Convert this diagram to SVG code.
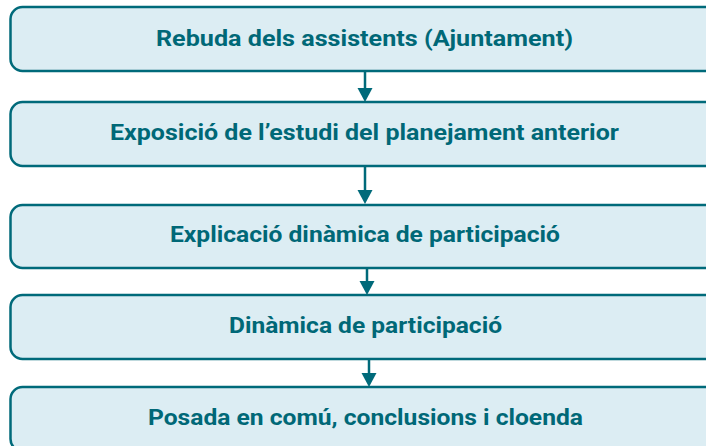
<svg xmlns="http://www.w3.org/2000/svg" width="706" height="446" viewBox="0 0 706 446">
<defs>
<style>
.box{fill:#dcedf3;stroke:#006a7a;stroke-width:2.5}
.lbl{font-family:Roboto,"Liberation Sans",sans-serif;font-weight:bold;font-size:22px;fill:#006877;text-anchor:middle}
.con{stroke:#006a7a;stroke-width:2.5;fill:none}
.head{fill:#006a7a}
</style>
</defs>
<rect width="706" height="446" fill="#ffffff"/>
<g id="connectors">
<line class="con" x1="365" y1="71" x2="365" y2="90"/>
<polygon class="head" points="357.5,88 372.5,88 365,102"/>
<line class="con" x1="365" y1="166" x2="365" y2="192"/>
<polygon class="head" points="357.5,190 372.5,190 365,204"/>
<line class="con" x1="367" y1="268" x2="367" y2="283"/>
<polygon class="head" points="359.5,281 374.5,281 367,295"/>
<line class="con" x1="369" y1="359" x2="369" y2="375"/>
<polygon class="head" points="361.5,373 376.5,373 369,387"/>
</g>
<g id="node1">
<rect class="box" x="10.5" y="7" width="710" height="64" rx="12"/>
<text class="lbl" x="364.5" y="45.5" textLength="417" lengthAdjust="spacingAndGlyphs">Rebuda dels assistents (Ajuntament)</text>
</g>
<g id="node2">
<rect class="box" x="10.5" y="102" width="710" height="64" rx="12"/>
<text class="lbl" x="364.5" y="139.5" textLength="509" lengthAdjust="spacingAndGlyphs">Exposició de l’estudi del planejament anterior</text>
</g>
<g id="node3">
<rect class="box" x="10.5" y="205" width="710" height="63" rx="12"/>
<text class="lbl" x="365" y="242" textLength="390" lengthAdjust="spacingAndGlyphs">Explicació dinàmica de participació</text>
</g>
<g id="node4">
<rect class="box" x="10.5" y="295" width="710" height="64" rx="12"/>
<text class="lbl" x="365.5" y="333" textLength="273" lengthAdjust="spacingAndGlyphs">Dinàmica de participació</text>
</g>
<g id="node5">
<rect class="box" x="10.5" y="387" width="710" height="64" rx="12"/>
<text class="lbl" x="365.5" y="425" textLength="435" lengthAdjust="spacingAndGlyphs">Posada en comú, conclusions i cloenda</text>
</g>
</svg>
